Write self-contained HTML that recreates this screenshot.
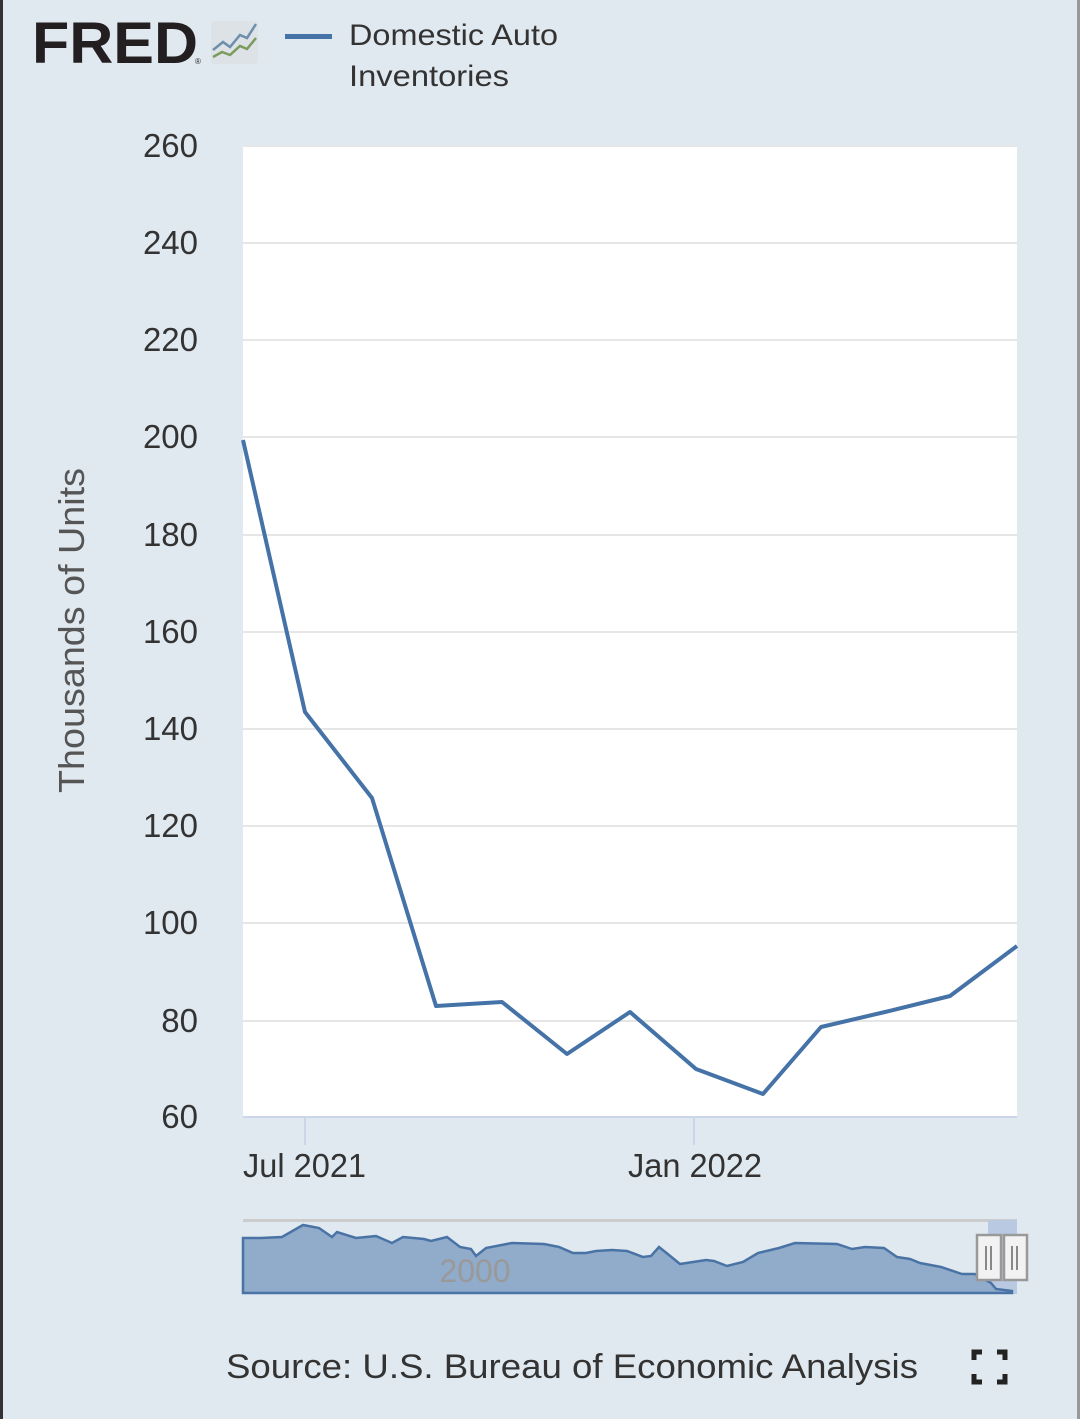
<!DOCTYPE html>
<html><head><style>
body{margin:0;width:1080px;height:1419px;background:#e1e9f0;overflow:hidden;font-family:"Liberation Sans",sans-serif;}
</style></head><body>
<svg width="1080" height="1419" xmlns="http://www.w3.org/2000/svg" style="position:absolute;left:0;top:0">
<rect x="0" y="0" width="3" height="1419" fill="#333"/>
<rect x="1077" y="0" width="3" height="1419" fill="#999"/>
<text x="32" y="63" font-family="Liberation Sans" font-weight="bold" font-size="58" fill="#231f20" textLength="166" lengthAdjust="spacingAndGlyphs">FRED</text>
<text x="195" y="64" font-size="8" fill="#231f20">®</text>
<rect x="211" y="21" width="47" height="43" rx="3" fill="#dde2e6"/>
<polyline points="213,50 223,42 230,47 240,35 247,38 256,24" fill="none" stroke="#6d8fab" stroke-width="2.5"/>
<polyline points="213,57 222,52 230,55 240,46 247,49 256,38" fill="none" stroke="#7a9b5c" stroke-width="2.5"/>
<rect x="285" y="34" width="47" height="5" fill="#4572a7"/>
<text x="349" y="45" font-size="30" fill="#333" textLength="209" lengthAdjust="spacingAndGlyphs">Domestic Auto</text>
<text x="349" y="86" font-size="30" fill="#333" textLength="160" lengthAdjust="spacingAndGlyphs">Inventories</text>
<rect x="243" y="146" width="774" height="971" fill="#fff"/>
<g stroke="#e6e6e6" stroke-width="2">
<line x1="243" x2="1017" y1="146" y2="146"/><line x1="243" x2="1017" y1="243" y2="243"/><line x1="243" x2="1017" y1="340" y2="340"/><line x1="243" x2="1017" y1="437" y2="437"/><line x1="243" x2="1017" y1="535" y2="535"/><line x1="243" x2="1017" y1="632" y2="632"/><line x1="243" x2="1017" y1="729" y2="729"/><line x1="243" x2="1017" y1="826" y2="826"/><line x1="243" x2="1017" y1="923" y2="923"/><line x1="243" x2="1017" y1="1021" y2="1021"/>
</g>
<line x1="243" x2="1017" y1="1117" y2="1117" stroke="#ccd6eb" stroke-width="2"/>
<line x1="305" x2="305" y1="1117" y2="1145" stroke="#ccd6eb" stroke-width="2"/>
<line x1="694" x2="694" y1="1117" y2="1145" stroke="#ccd6eb" stroke-width="2"/>
<g font-size="33" fill="#333" text-anchor="end">
<text x="198" y="157">260</text><text x="198" y="254">240</text><text x="198" y="351">220</text><text x="198" y="448">200</text><text x="198" y="546">180</text><text x="198" y="643">160</text><text x="198" y="740">140</text><text x="198" y="837">120</text><text x="198" y="934">100</text><text x="198" y="1032">80</text><text x="198" y="1128">60</text>
</g>
<text x="243" y="1177" font-size="33" fill="#333" textLength="123" lengthAdjust="spacingAndGlyphs">Jul 2021</text>
<text x="628" y="1177" font-size="33" fill="#333" textLength="134" lengthAdjust="spacingAndGlyphs">Jan 2022</text>
<text transform="translate(84,793) rotate(-90)" font-size="36" fill="#555" textLength="325" lengthAdjust="spacingAndGlyphs">Thousands of Units</text>
<polyline points="243,440 305,712 372,798 436,1006 502,1002 567,1054 630,1012 696,1069 763,1094 821,1027 885,1012 950,996 1017,946" fill="none" stroke="#4572a7" stroke-width="4" stroke-linejoin="round"/>
<rect x="243" y="1219" width="774" height="3" fill="#ccc"/>
<rect x="988" y="1220" width="29" height="74" fill="#b9c9e2"/>
<polygon points="243,1293 243,1238 261,1238 282,1237 303,1225 319,1228 332,1237 337,1232 356,1238 376,1236 392,1243 403,1237 424,1239 431,1241 447,1237 460,1247 471,1249 476,1256 486,1248 512,1243 544,1244 559,1247 573,1253 586,1253 596,1251 612,1250 627,1251 643,1257 651,1256 659,1247 669,1255 680,1264 706,1260 714,1261 727,1266 743,1262 758,1253 779,1248 795,1243 837,1244 852,1249 865,1247 884,1248 897,1257 910,1259 920,1263 941,1267 962,1274 975,1274 991,1283 996,1289 1012,1291 1012,1293" fill="#91abcb" stroke="#4a73a5" stroke-width="2.5"/>
<text x="475" y="1282" font-size="32" fill="#999" text-anchor="middle">2000</text>
<g stroke="#999" stroke-width="2.5" fill="#f2f2f2">
<rect x="977" y="1235" width="24" height="45"/><rect x="1004" y="1235" width="23" height="45"/>
</g>
<g stroke="#888" stroke-width="2"><line x1="986" y1="1246" x2="986" y2="1270"/><line x1="991" y1="1246" x2="991" y2="1270"/><line x1="1012" y1="1246" x2="1012" y2="1270"/><line x1="1017" y1="1246" x2="1017" y2="1270"/></g>
<text x="226" y="1378" font-size="34" fill="#333" textLength="692" lengthAdjust="spacingAndGlyphs">Source: U.S. Bureau of Economic Analysis</text>
<g stroke="#222" stroke-width="5" fill="none">
<polyline points="974,1360 974,1352 982,1352"/><polyline points="997,1352 1005,1352 1005,1360"/><polyline points="974,1374 974,1382 982,1382"/><polyline points="997,1382 1005,1382 1005,1374"/>
</g>
</svg>
</body></html>
